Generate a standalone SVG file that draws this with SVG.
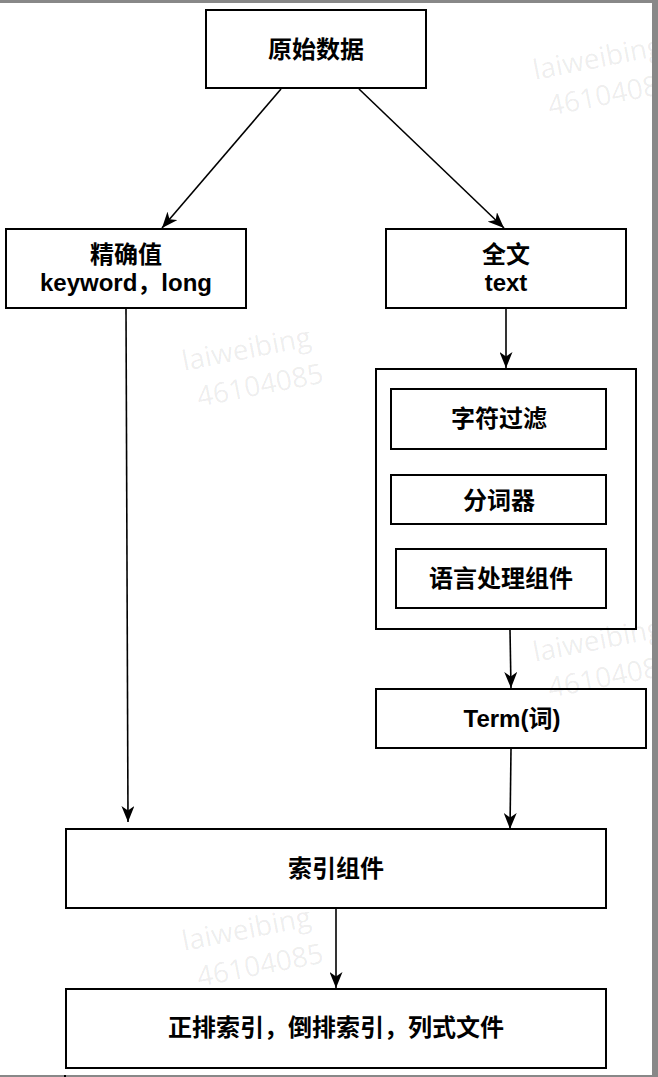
<svg xmlns="http://www.w3.org/2000/svg" width="658" height="1077" viewBox="0 0 658 1077">
  <style>
    .box { fill: #ffffff; stroke: #000000; stroke-width: 2; }
    .lbl { font-family: "Liberation Sans", "Noto Sans CJK SC", sans-serif; font-weight: bold; font-size: 24px; fill: #000000; text-anchor: middle; dominant-baseline: central; }
    .edge { fill: none; stroke: #000000; stroke-width: 1.6; }
    .wm { font-family: "Open Sans", "Noto Sans", sans-serif; font-size: 28px; fill: #000000; fill-opacity: 0.08; }
  </style>
  <defs>
    <marker id="arrow" viewBox="0 0 16 13" markerWidth="16" markerHeight="13" refX="16" refY="6.5" orient="auto" markerUnits="userSpaceOnUse">
      <path d="M0,0 L16,6.5 L0,13 L4.5,6.5 Z" fill="#000000"/>
    </marker>
  </defs>
  <rect x="0" y="0" width="658" height="1077" fill="#ffffff"/>

  <g id="connectors">
    <line class="edge" x1="281" y1="89" x2="162" y2="228" marker-end="url(#arrow)"/>
    <line class="edge" x1="359" y1="89" x2="504" y2="228" marker-end="url(#arrow)"/>
    <line class="edge" x1="506" y1="309" x2="506" y2="368" marker-end="url(#arrow)"/>
    <line class="edge" x1="510" y1="630" x2="511" y2="688" marker-end="url(#arrow)"/>
    <line class="edge" x1="511" y1="749" x2="510" y2="829" marker-end="url(#arrow)"/>
    <line class="edge" x1="126" y1="309" x2="128" y2="822" marker-end="url(#arrow)"/>
    <line class="edge" x1="336" y1="909" x2="336" y2="988" marker-end="url(#arrow)"/>
  </g>

  <g id="node-raw">
    <rect class="box" x="206" y="10" width="220" height="78"/>
    <text class="lbl" x="316" y="49">原始数据</text>
  </g>
  <g id="node-exact">
    <rect class="box" x="6" y="229" width="240" height="79"/>
    <text class="lbl" x="126" y="254">精确值</text>
    <text class="lbl" x="126" y="282">keyword，long</text>
  </g>
  <g id="node-fulltext">
    <rect class="box" x="386" y="229" width="240" height="79"/>
    <text class="lbl" x="506" y="254">全文</text>
    <text class="lbl" x="506" y="282">text</text>
  </g>
  <g id="node-analyzer">
    <rect class="box" x="376" y="369" width="260" height="260"/>
  </g>
  <g id="node-charfilter">
    <rect class="box" x="391" y="389" width="215" height="60"/>
    <text class="lbl" x="499" y="418">字符过滤</text>
  </g>
  <g id="node-tokenizer">
    <rect class="box" x="391" y="475" width="215" height="49"/>
    <text class="lbl" x="499" y="500">分词器</text>
  </g>
  <g id="node-lang">
    <rect class="box" x="396" y="549" width="210" height="59"/>
    <text class="lbl" x="501" y="578">语言处理组件</text>
  </g>
  <g id="node-term">
    <rect class="box" x="376" y="689" width="270" height="59"/>
    <text class="lbl" x="512" y="718">Term(词)</text>
  </g>
  <g id="node-index">
    <rect class="box" x="66" y="829" width="540" height="79"/>
    <text class="lbl" x="336" y="868">索引组件</text>
  </g>
  <g id="node-files">
    <rect class="box" x="66" y="989" width="540" height="79"/>
    <text class="lbl" x="336" y="1027">正排索引，倒排索引，列式文件</text>
  </g>

  <g id="watermarks">
    <g transform="translate(184,371) rotate(-11)">
      <text class="wm" x="0" y="0">laiweibing</text>
      <text class="wm" x="8" y="38">46104085</text>
    </g>
    <g transform="translate(184,951) rotate(-11)">
      <text class="wm" x="0" y="0">laiweibing</text>
      <text class="wm" x="8" y="38">46104085</text>
    </g>
    <g transform="translate(535,80) rotate(-11)">
      <text class="wm" x="0" y="0">laiweibing</text>
      <text class="wm" x="8" y="38">46104085</text>
    </g>
    <g transform="translate(535,662) rotate(-11)">
      <text class="wm" x="0" y="0">laiweibing</text>
      <text class="wm" x="8" y="38">46104085</text>
    </g>
  </g>

  <g id="frame">
    <rect x="0" y="0" width="658" height="3" fill="#888888"/>
    <rect x="652" y="0" width="6" height="1077" fill="#888888"/>
    <rect x="0" y="1075" width="658" height="2" fill="#888888"/>
    <rect x="64" y="1075" width="2" height="2" fill="#000000"/>
  </g>
</svg>
